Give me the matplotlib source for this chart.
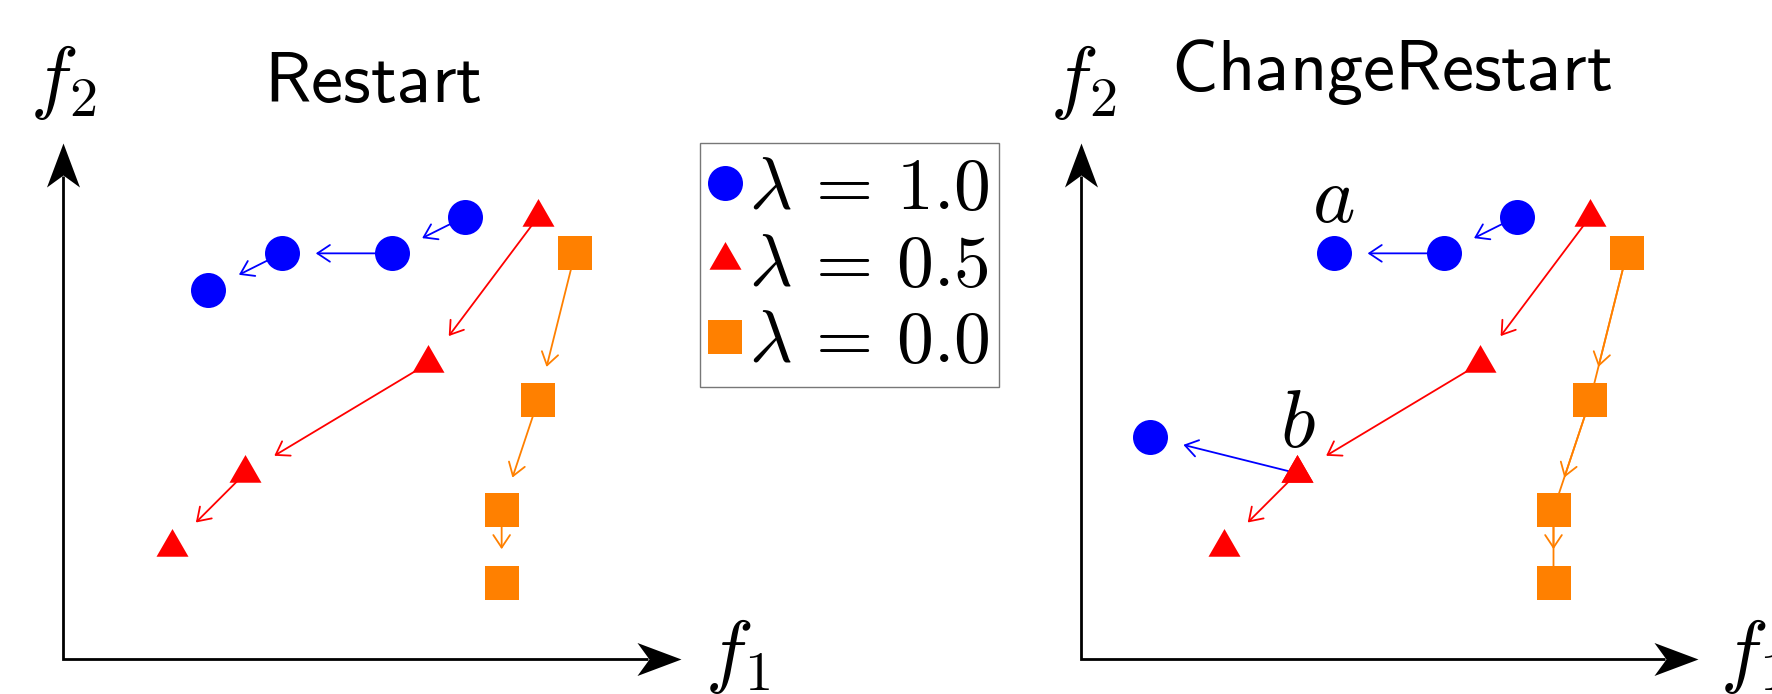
import numpy as np
import matplotlib
matplotlib.use('Agg')
import matplotlib.pyplot as plt
from matplotlib.path import Path
from matplotlib.lines import Line2D

plt.rcParams['mathtext.fontset'] = 'cm'

# ---------------- data (f1, f2) ----------------
# Restart
r_blue_f1 = [11, 9, 6, 4]
r_blue_f2 = [12, 11, 11, 10]
r_red_f1 = [13, 10, 5, 3]
r_red_f2 = [12, 8, 5, 3]
r_orange_f1 = [14, 13, 12, 12]
r_orange_f2 = [11, 7, 4, 2]

# ChangeRestart
c_blue_f1 = [11, 9, 6]
c_blue_f2 = [12, 11, 11]
c_jump_f1 = [5, 1]      # from triangle b to the new circle
c_jump_f2 = [5, 6]
c_red_f1 = [13, 10, 5, 3]
c_red_f2 = [12, 8, 5, 3]
c_orange_f1 = [14, 13, 12, 12]
c_orange_f2 = [11, 7, 4, 2]

legend_labels = [r'$\lambda\,=\,1.0$', r'$\lambda\,=\,0.5$', r'$\lambda\,=\,0.0$']

BLUE = '#0000ff'
RED = '#ff0000'
ORANGE = '#ff8000'

# ---------------- markers ----------------
tri = Path([(0, 2 / np.sqrt(3)), (-1, -1 / np.sqrt(3)), (1, -1 / np.sqrt(3)), (0, 0)],
           [Path.MOVETO, Path.LINETO, Path.LINETO, Path.CLOSEPOLY])


def stealth(direction):
    v = np.array([(0, 0), (-44, 16.5), (-32, 0), (-44, -16.5), (0, 0)], float)
    if direction == 'up':
        v = np.column_stack([-v[:, 1], v[:, 0]])
    return Path(v, [Path.MOVETO, Path.LINETO, Path.LINETO, Path.LINETO, Path.CLOSEPOLY])


MS = {'o': 25.2, 's': 25.0, 'tri': 26.6}

W, H = 1772, 694
U = 36.65      # pixels per unit
OY = 656.5     # pixel row of f2 = 0

fig = plt.figure(figsize=(W / 100, H / 100), dpi=100)


def make_axes(left_px, right_px, ox):
    ax = fig.add_axes([left_px / W, 0, (right_px - left_px) / W, 1])
    ax.set_xlim((left_px - ox) / U, (right_px - ox) / U)
    ax.set_ylim(-(H - OY) / U, OY / U)
    ax.axis('off')
    return ax


def draw_axes(ax, x0, y0, xtip, ytip):
    ax.plot([x0, x0, xtip - 0.9], [ytip - 0.9, y0, y0], color='black', lw=2.0,
            solid_capstyle='butt', solid_joinstyle='miter', clip_on=False)
    ax.plot([x0], [ytip], ls='none', marker=stealth('up'), ms=63.4, color='black', mew=0, clip_on=False)
    ax.plot([xtip], [y0], ls='none', marker=stealth('right'), ms=63.4, color='black', mew=0, clip_on=False)


def chain(ax, xs, ys, color, marker, ms, full_line=False, start=0):
    if full_line:
        ax.plot(xs, ys, color=color, lw=1.3, zorder=2)
    for i in range(len(xs) - 1):
        ax.annotate('', xy=(xs[i + 1], ys[i + 1]), xytext=(xs[i], ys[i]),
                    arrowprops=dict(arrowstyle='->,head_length=0.45,head_width=0.3',
                                    color=color, lw=1.3, shrinkA=0, shrinkB=24.5,
                                    mutation_scale=20), zorder=2)
    ax.plot(xs[start:], ys[start:], ls='none', marker=marker, ms=ms, color=color, mew=0, zorder=3)


# ---------------- left: Restart ----------------
ax1 = make_axes(0, 886, 61.85)
draw_axes(ax1, 0.04, -0.07, 16.89, 14.01)
chain(ax1, r_blue_f1, r_blue_f2, BLUE, 'o', MS['o'])
chain(ax1, r_red_f1, r_red_f2, RED, tri, MS['tri'])
chain(ax1, r_orange_f1, r_orange_f2, ORANGE, 's', MS['s'])
ax1.text(8.49, 15.13, r'$\mathsf{Restart}$', fontsize=52, ha='center', va='baseline')
ax1.text(0.03, 15.67, r'$f_2$', fontsize=58, ha='center', va='center')
ax1.text(18.45, 0.0, r'$f_1$', fontsize=58, ha='center', va='center')

# ---------------- right: ChangeRestart ----------------
ax2 = make_axes(886, W, 1113.7)
draw_axes(ax2, -0.89, -0.07, 15.94, 14.0)
chain(ax2, c_blue_f1, c_blue_f2, BLUE, 'o', MS['o'])
chain(ax2, c_red_f1, c_red_f2, RED, tri, MS['tri'])
chain(ax2, c_orange_f1, c_orange_f2, ORANGE, 's', MS['s'], full_line=True)
chain(ax2, c_jump_f1, c_jump_f2, BLUE, 'o', MS['o'], start=1)
ax2.plot(c_red_f1[2], c_red_f2[2], ls='none', marker=tri, ms=MS['tri'], color=RED, mew=0, zorder=4)
ax2.text(c_blue_f1[-1], c_blue_f2[-1] + 1.45, r'$a$', fontsize=58, ha='center', va='center')
ax2.text(c_red_f1[2] + 0.03, c_red_f2[2] + 1.33, r'$b$', fontsize=58, ha='center', va='center')
ax2.text(7.57, 15.46, r'$\mathsf{ChangeRestart}$', fontsize=52, ha='center', va='baseline')
ax2.text(-0.84, 15.67, r'$f_2$', fontsize=58, ha='center', va='center')
ax2.text(17.43, 0.0, r'$f_1$', fontsize=58, ha='center', va='center', clip_on=False)

# ---------------- legend ----------------
handles = [Line2D([], [], ls='none', marker='o', ms=MS['o'], color=BLUE, mew=0),
           Line2D([], [], ls='none', marker=tri, ms=MS['tri'], color=RED, mew=0),
           Line2D([], [], ls='none', marker='s', ms=MS['s'], color=ORANGE, mew=0)]
leg = fig.legend(handles, legend_labels, loc='upper left',
                 bbox_to_anchor=(700 / W, 1 - 143.3 / H), prop={'size': 53},
                 frameon=True, fancybox=False, framealpha=1, edgecolor='#777777',
                 borderpad=0.12, handlelength=0.45, handletextpad=0.1,
                 labelspacing=0.05, borderaxespad=0)
leg.get_frame().set_linewidth(1.0)

fig.savefig('out.png', dpi=100)
